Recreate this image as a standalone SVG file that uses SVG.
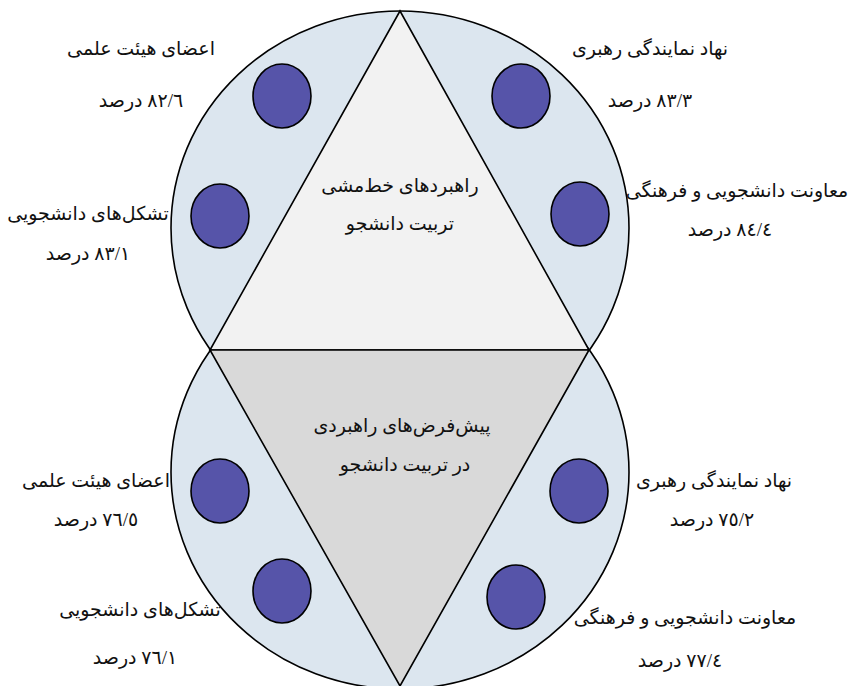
<svg xmlns="http://www.w3.org/2000/svg" width="854" height="686" viewBox="0 0 854 686">
<style>
.big{fill:#dce6ef;stroke:#000;stroke-width:1.6}
.tri{stroke:#000;stroke-width:1.6;stroke-linejoin:miter}
.dot{fill:#5654a9;stroke:#000;stroke-width:1.6}
text{font-family:"Liberation Serif","DejaVu Serif","DejaVu Sans",serif;font-size:19px;fill:#111;text-anchor:middle;direction:rtl;unicode-bidi:embed}
</style>
<rect width="854" height="686" fill="#fff"/>
<g id="circles">
<ellipse class="big" cx="400" cy="228" rx="229" ry="217"/>
<ellipse class="big" cx="400" cy="472" rx="229" ry="217"/>
</g>
<g id="top-triangle">
<polygon class="tri" fill="#f2f2f2" points="400,11 210,350 589,350"/>
<text x="400" y="192">راهبردهای خط‌مشی</text>
<text x="400" y="230">تربیت دانشجو</text>
</g>
<g id="bottom-triangle">
<polygon class="tri" fill="#d9d9d9" points="210,350 589,350 400,686"/>
<text x="402" y="432">پیش‌فرض‌های راهبردی</text>
<text x="405" y="471">در تربیت دانشجو</text>
</g>
<g id="n-top-faculty">
<ellipse class="dot" cx="282" cy="96" rx="29" ry="32"/>
<text x="141" y="55">اعضای هیئت علمی</text>
<text x="141" y="107">٨٢/٦ درصد</text>
</g>
<g id="n-top-leader">
<ellipse class="dot" cx="521" cy="96" rx="29" ry="32"/>
<text x="650" y="55">نهاد نمایندگی رهبری</text>
<text x="650" y="107">٨٣/٣ درصد</text>
</g>
<g id="n-top-student-orgs">
<ellipse class="dot" cx="220" cy="216" rx="29" ry="32"/>
<text x="88" y="220">تشکل‌های دانشجویی</text>
<text x="88" y="260">٨٣/١ درصد</text>
</g>
<g id="n-top-deputy">
<ellipse class="dot" cx="580" cy="214" rx="29" ry="32"/>
<text x="737" y="197">معاونت دانشجویی و فرهنگی</text>
<text x="730" y="236">٨٤/٤ درصد</text>
</g>
<g id="n-bot-faculty">
<ellipse class="dot" cx="220" cy="491" rx="29" ry="32"/>
<text x="96" y="487">اعضای هیئت علمی</text>
<text x="96" y="526">٧٦/٥ درصد</text>
</g>
<g id="n-bot-leader">
<ellipse class="dot" cx="579" cy="491" rx="29" ry="32"/>
<text x="714" y="487">نهاد نمایندگی رهبری</text>
<text x="712" y="526">٧٥/٢ درصد</text>
</g>
<g id="n-bot-student-orgs">
<ellipse class="dot" cx="282" cy="591" rx="29" ry="32"/>
<text x="140" y="616">تشکل‌های دانشجویی</text>
<text x="135" y="664">٧٦/١ درصد</text>
</g>
<g id="n-bot-deputy">
<ellipse class="dot" cx="516" cy="597" rx="29" ry="32"/>
<text x="685" y="624">معاونت دانشجویی و فرهنگی</text>
<text x="680" y="667">٧٧/٤ درصد</text>
</g>
<g id="connectors"/>
</svg>
